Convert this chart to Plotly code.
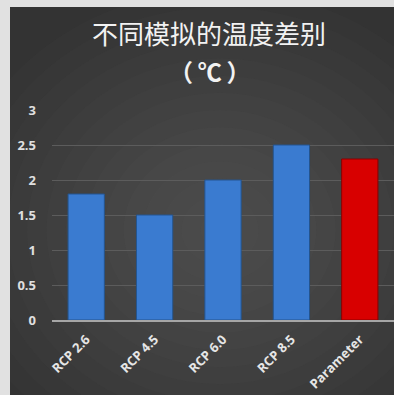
import plotly.graph_objects as go

categories = ["RCP 2.6", "RCP 4.5", "RCP 6.0", "RCP 8.5", "Parameter"]
values = [1.8, 1.5, 2.0, 2.5, 2.3]
bar_colors = ["#3a7bd0", "#3a7bd0", "#3a7bd0", "#3a7bd0", "#d80000"]
edge_colors = ["#24558f", "#24558f", "#24558f", "#24558f", "#8a0000"]
tick_vals = [0, 0.5, 1, 1.5, 2, 2.5, 3]
tick_text = ["0", "0.5", "1", "1.5", "2", "2.5", "3"]
title_line1 = "不同模拟的温度差别"
title_line2 = "（\u2009℃\u2009）"

W, H = 394, 395
ML, MR, MT, MB = 52, 0, 110, 75
PW, PH = W - ML - MR, H - MT - MB


def px_x(p):
    return (p - ML) / PW


def px_y(p):
    return (H - MB - p) / PH


fig = go.Figure()
fig.add_trace(go.Bar(
    x=categories, y=values,
    marker=dict(color=bar_colors, line=dict(color=edge_colors, width=1)),
    width=0.53,
))

shapes = [dict(type="rect", xref="paper", yref="paper",
               x0=px_x(10), x1=px_x(394), y0=px_y(395), y1=px_y(7),
               fillcolor="#333333", line=dict(width=0), layer="below")]
# soft radial glow
cx, cy = 220, 230
n = 14
for i in range(n):
    f = 1 - i / n
    rx, ry = 270 * f, 240 * f
    shapes.append(dict(type="circle", xref="paper", yref="paper",
                       x0=px_x(cx - rx), x1=px_x(cx + rx),
                       y0=px_y(cy + ry), y1=px_y(cy - ry),
                       fillcolor="#707070", opacity=0.045, line=dict(width=0), layer="below"))
# re-paint light border over the glow
shapes.append(dict(type="rect", xref="paper", yref="paper",
                   x0=px_x(-60), x1=px_x(10), y0=px_y(460), y1=px_y(-60),
                   fillcolor="#e1e1e1", line=dict(width=0), layer="below"))
shapes.append(dict(type="rect", xref="paper", yref="paper",
                   x0=px_x(-60), x1=px_x(460), y0=px_y(7), y1=px_y(-60),
                   fillcolor="#e1e1e1", line=dict(width=0), layer="below"))
shapes.append(dict(type="rect", xref="paper", yref="paper",
                   x0=px_x(394), x1=px_x(460), y0=px_y(460), y1=px_y(-60),
                   fillcolor="#e1e1e1", line=dict(width=0), layer="below"))

fig.update_layout(
    width=W, height=H,
    margin=dict(l=ML, r=MR, t=MT, b=MB, autoexpand=False),
    paper_bgcolor="#e1e1e1",
    plot_bgcolor="rgba(0,0,0,0)",
    showlegend=False,
    shapes=shapes,
    bargap=0.47,
    annotations=[
        dict(text=title_line1, x=px_x(209), y=px_y(32), xref="paper", yref="paper",
             showarrow=False, xanchor="center", yanchor="middle",
             font=dict(family="Noto Sans CJK SC", size=26, color="#f2f2f2")),
        dict(text=title_line2, x=px_x(210), y=px_y(70), xref="paper", yref="paper",
             showarrow=False, xanchor="center", yanchor="middle",
             font=dict(family="Noto Sans CJK SC", size=24, color="#f2f2f2", weight="bold")),
    ],
)
fig.update_yaxes(
    range=[0, 3], tickvals=tick_vals, ticktext=tick_text, automargin=False,
    showgrid=True, gridcolor="#5c5c5c", gridwidth=1,
    zeroline=False, showline=False, ticks="", ticklabelstandoff=15,
    tickfont=dict(family="Open Sans", size=13, color="#e0e0e0", weight="bold"),
)
fig.update_xaxes(
    showgrid=False, showline=True, linecolor="#a6a6a6", linewidth=1.5,
    ticks="", tickangle=-45, ticklabelstandoff=5, automargin=False,
    tickfont=dict(family="Open Sans", size=13, color="#e6e6e6", weight="bold"),
)

fig.write_html("out.html")
